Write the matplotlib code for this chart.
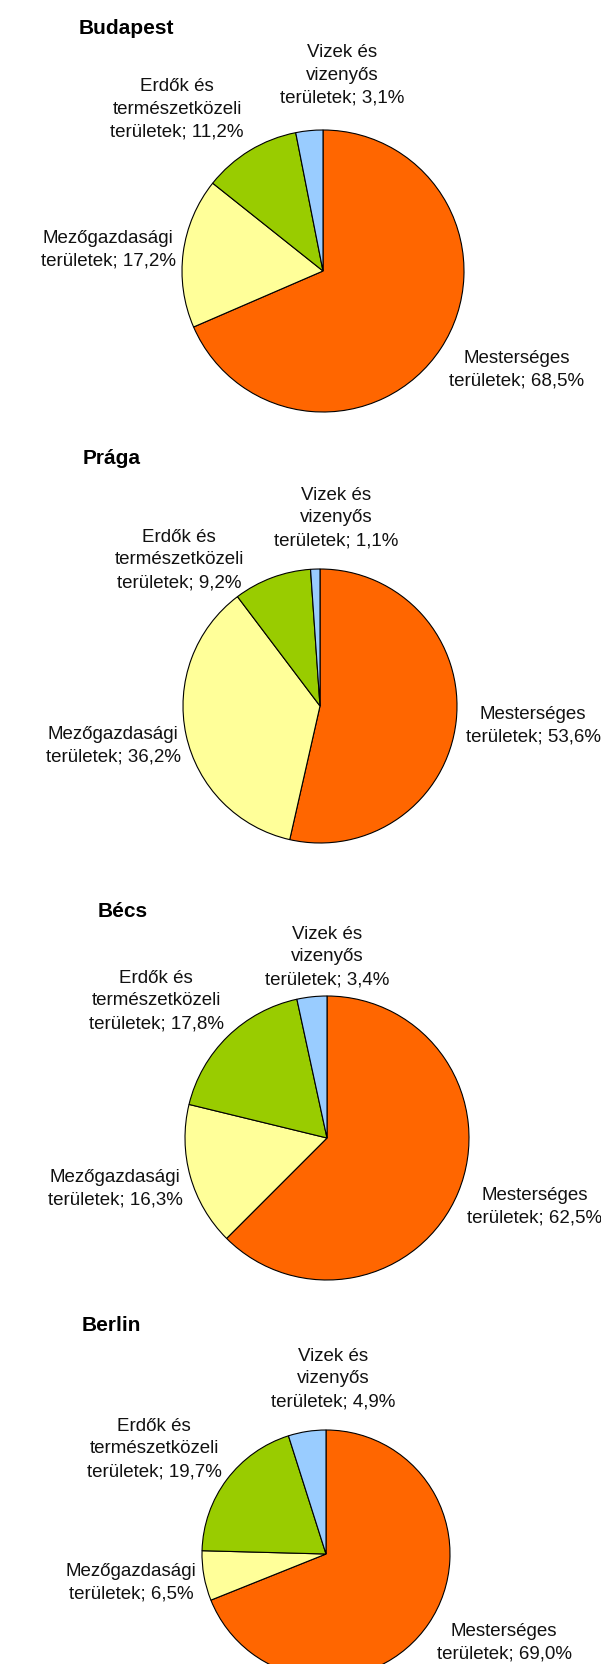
import matplotlib
matplotlib.use("Agg")
import matplotlib.pyplot as plt

W, H = 601, 1665
DPI = 100

# Land-use shares (%) per city, in the order drawn clockwise from 12 o'clock
cities = ["Budapest", "Prága", "Bécs", "Berlin"]
categories = [
    "Mesterséges\nterületek",
    "Mezőgazdasági\nterületek",
    "Erdők és\ntermészetközeli\nterületek",
    "Vizek és\nvizenyős\nterületek",
]
budapest = [68.5, 17.2, 11.2, 3.1]
praga = [53.6, 36.2, 9.2, 1.1]
becs = [62.5, 16.3, 17.8, 3.4]
berlin = [69.0, 6.5, 19.7, 4.9]
shares = [budapest, praga, becs, berlin]

colors = ["#FF6600", "#FFFF99", "#99CC00", "#99CCFF"]

# Panel layout in pixels (y measured from the top of the figure)
pie_layout = [
    dict(center=(323, 272), radius=141, title=(79, 28),
         labels=[(517, 370), (108, 250), (177, 109), (342, 75)]),
    dict(center=(320, 707), radius=137, title=(83, 459),
         labels=[(533, 726), (113, 746), (179, 560), (336, 518)]),
    dict(center=(327, 1139), radius=142, title=(98, 912),
         labels=[(535, 1207), (115, 1189), (156, 1001), (327, 957)]),
    dict(center=(326, 1555), radius=124, title=(82, 1326),
         labels=[(504, 1643), (131, 1583), (154, 1449), (333, 1379)]),
]

FONT = ["Liberation Sans", "DejaVu Sans"]

fig = plt.figure(figsize=(W / DPI, H / DPI), dpi=DPI, facecolor="white")
ax = fig.add_axes([0, 0, 1, 1])


def fmt(v):
    return f"{v:.1f}".replace(".", ",")


for city, vals, lay in zip(cities, shares, pie_layout):
    cx, cy = lay["center"]
    ax.pie(vals, colors=colors, startangle=90, counterclock=False,
           center=(cx, H - cy), radius=lay["radius"],
           wedgeprops=dict(edgecolor="black", linewidth=0.8))
    tx, ty = lay["title"]
    ax.text(tx, H - ty, city, ha="left", va="center", fontsize=15,
            fontweight="bold", family=FONT, color="black")
    for cat, v, (lx, ly) in zip(categories, vals, lay["labels"]):
        ax.text(lx, H - ly, f"{cat}; {fmt(v)}%", ha="center", va="center",
                multialignment="center", fontsize=13.5, family=FONT,
                linespacing=1.45, color="#111111")

ax.set_xlim(0, W)
ax.set_ylim(0, H)
ax.set_aspect("equal")
ax.axis("off")

fig.savefig("out.png", dpi=DPI, facecolor="white")
